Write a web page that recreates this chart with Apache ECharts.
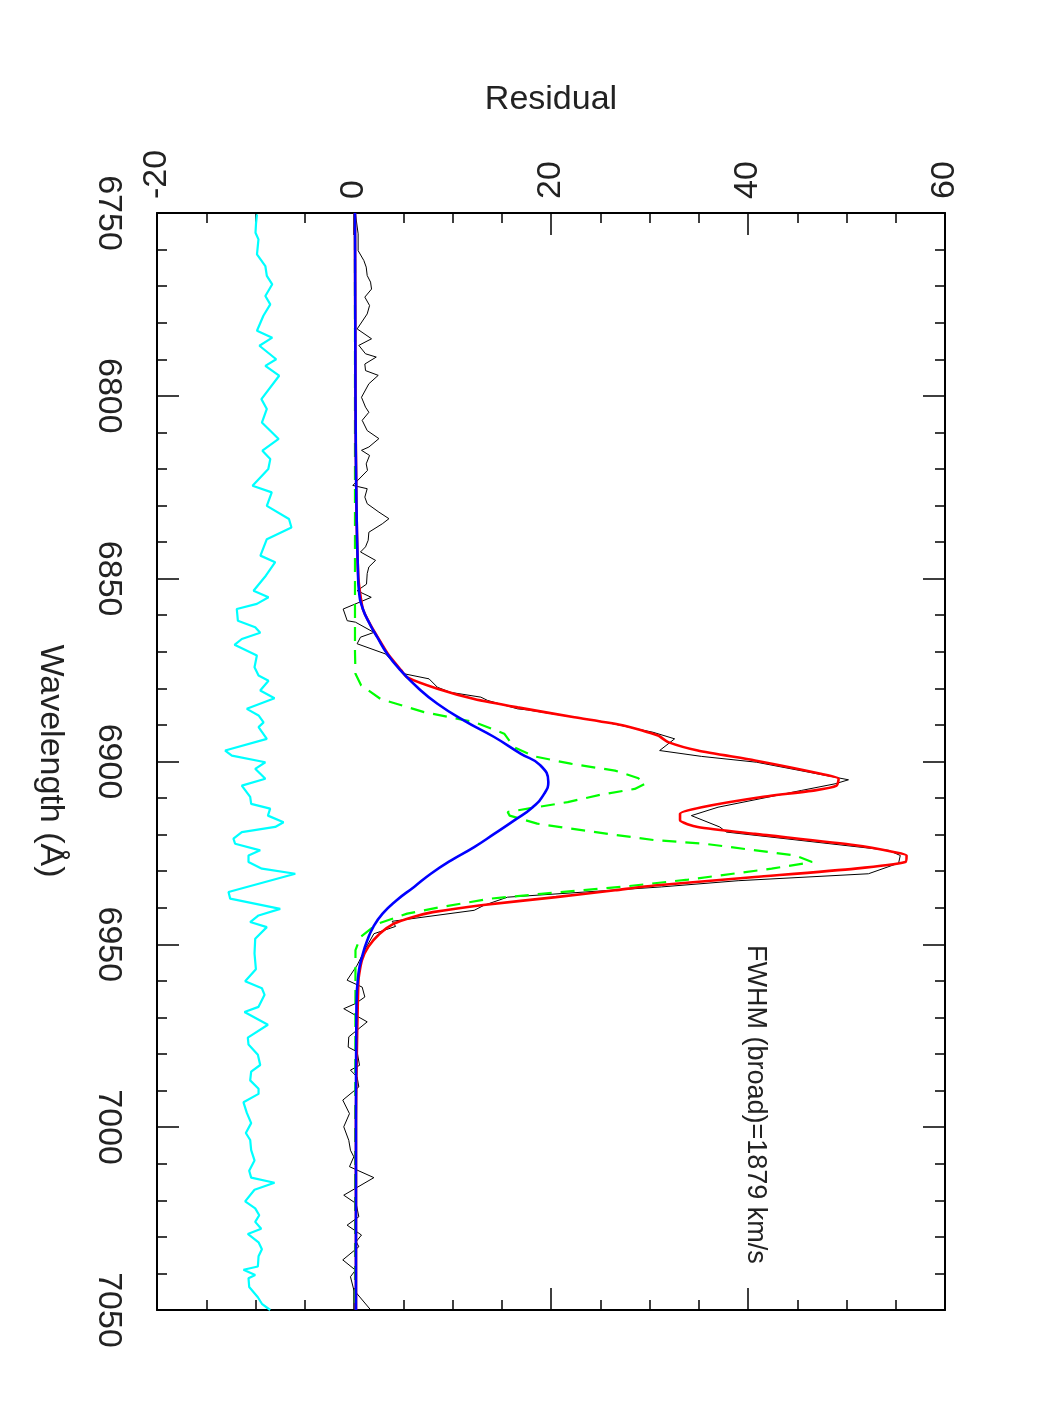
<!DOCTYPE html>
<html>
<head>
<meta charset="utf-8">
<script src="https://cdn.jsdelivr.net/npm/echarts@6/dist/echarts.min.js"></script>
<style>
  html, body { margin: 0; padding: 0; background: #fff; }
  #main { width: 1050px; height: 1425px; }
</style>
</head>
<body>
<div id="main"></div>
<script>
// residual axis (horizontal) ticks / wavelength axis (vertical) ticks
var residualTicks = [-20, 0, 20, 40, 60];
var waveTicks = [6750, 6800, 6850, 6900, 6950, 7000, 7050];

// observed residual spectrum (black)
var blackWave = [6750.3, 6755.7, 6760.3, 6763.0, 6764.8, 6767.1, 6768.9, 6770.8, 6773.0, 6775.3,
  6777.6, 6781.7, 6784.4, 6786.2, 6788.5, 6789.4, 6791.3, 6793.1, 6794.4, 6796.7,
  6800.4, 6803.1, 6804.5, 6806.7, 6809.5, 6811.7, 6814.0, 6814.9, 6816.3, 6818.6,
  6820.4, 6824.5, 6825.4, 6827.7, 6829.5, 6831.8, 6833.6, 6835.0, 6837.3, 6839.5,
  6841.3, 6842.7, 6845.0, 6846.8, 6848.6, 6851.5, 6853.3, 6855.1, 6858.3, 6861.5,
  6861.9, 6864.7, 6866.0, 6867.8, 6870.6, 6876.0, 6877.4, 6879.7, 6881.1, 6882.4,
  6883.3, 6885.6, 6885.9, 6887.9, 6889.2, 6892.0, 6893.8, 6897.0, 6898.6, 6900.2,
  6905.0, 6906.1, 6907.9, 6912.5, 6914.8, 6917.9, 6919.3, 6924.3, 6925.7, 6927.8,
  6930.7, 6932.6, 6934.3, 6937.1, 6939.3, 6940.7, 6943.7, 6945.1, 6947.1, 6951.0,
  6955.7, 6959.8, 6961.7, 6964.4, 6966.2, 6967.6, 6971.2, 6975.3, 6978.1, 6979.4,
  6983.1, 6984.4, 6986.3, 6989.0, 6992.6, 6996.3, 6999.9, 7003.6, 7006.3, 7008.1,
  7010.8, 7013.8, 7018.6, 7020.9, 7024.5, 7026.8, 7029.5, 7031.3, 7032.7, 7036.3,
  7039.1, 7040.9, 7044.5, 7050.0];
var blackFlux = [0.15, 0.42, 0.42, 1.0, 1.24, 1.34, 1.68, 1.78, 1.1, 1.58,
  1.34, 0.32, 1.78, 0.49, 1.17, 2.26, 1.1, 1.17, 2.46, 1.51,
  0.76, 1.17, 1.51, 0.83, 1.34, 2.53, 1.51, 0.76, 1.58, 1.24,
  1.37, -0.12, 1.34, 1.1, 1.34, 2.53, 3.55, 2.87, 1.51, 1.44,
  1.17, 0.66, 2.19, 1.51, 1.34, 1.27, 0.32, 1.75, -1.1, -0.69,
  0.15, 2.02, 0.66, 0.32, 3.21, 5.07, 7.62, 8.47, 9.82, 12.88,
  13.56, 16.61, 17.63, 22.38, 25.43, 30.35, 32.55, 31.03, 35.27, 40.87,
  50.2, 48.84, 45.45, 36.96, 34.25, 37.13, 37.81, 54.27, 55.46, 55.29,
  52.23, 39.0, 31.2, 15.59, 13.22, 12.2, 3.88, 4.22, 2.02, 1.2,
  0.32, -0.7, 0.83, 1.1, 0.15, -1.04, 1.34, -0.53, -0.59, 0.32,
  0.56, -0.36, 0.32, 0.49, -1.14, -0.46, -1.04, -0.53, -0.36, -0.02,
  -0.46, 2.02, -1.04, 0.22, 0.49, -0.7, 0.76, 0.22, 0.49, -1.14,
  0.15, -0.36, -0.02, 1.7];

// fit residual, shifted down by 10 (cyan)
var cyanWave = [6750.4, 6753.0, 6755.4, 6757.2, 6761.3, 6764.5, 6767.2, 6769.5, 6772.7, 6775.0,
  6778.1, 6782.2, 6784.1, 6786.3, 6790.0, 6791.8, 6794.5, 6800.9, 6803.6, 6807.3,
  6811.8, 6815.0, 6817.3, 6820.0, 6824.6, 6826.4, 6830.1, 6833.7, 6836.0, 6839.2,
  6843.7, 6845.5, 6849.2, 6853.3, 6855.1, 6856.9, 6858.3, 6861.5, 6863.3, 6864.8,
  6866.5, 6868.1, 6871.0, 6874.2, 6876.5, 6877.9, 6880.6, 6882.7, 6885.6, 6887.4,
  6889.3, 6890.6, 6893.8, 6897.0, 6898.4, 6900.2, 6902.0, 6904.7, 6906.6, 6909.7,
  6911.6, 6912.9, 6914.8, 6916.6, 6917.9, 6919.3, 6921.1, 6922.5, 6924.3, 6925.7,
  6927.5, 6929.3, 6930.7, 6935.7, 6937.5, 6940.3, 6942.1, 6943.9, 6945.3, 6948.5,
  6952.5, 6956.8, 6960.1, 6962.0, 6963.8, 6967.1, 6968.5, 6972.0, 6975.5, 6977.4,
  6980.2, 6983.0, 6984.8, 6987.2, 6989.5, 6990.9, 6993.2, 6996.1, 6998.9, 7001.6,
  7003.5, 7006.3, 7009.1, 7011.9, 7013.8, 7015.2, 7017.1, 7020.3, 7022.2, 7024.1,
  7025.9, 7027.8, 7029.2, 7031.5, 7033.4, 7035.3, 7038.1, 7039.0, 7040.4, 7041.3,
  7043.7, 7046.5, 7048.3, 7050.0];
var cyanFlux = [-9.85, -9.95, -10.0, -9.7, -9.85, -9.0, -8.85, -8.3, -9.0, -8.5,
  -9.2, -9.85, -8.3, -9.6, -7.9, -9.0, -7.6, -9.4, -8.85, -9.35,
  -7.65, -9.3, -8.5, -8.7, -10.3, -8.35, -8.85, -6.6, -6.35, -8.85,
  -9.5, -8.0, -8.95, -10.2, -8.68, -9.86, -11.9, -11.79, -10.03, -9.52,
  -11.39, -12.13, -9.86, -10.1, -9.69, -8.68, -9.52, -8.07, -10.88, -9.69,
  -9.18, -9.69, -8.85, -13.08, -12.4, -9.0, -10.03, -9.0, -11.39, -10.54,
  -10.44, -8.51, -8.74, -7.15, -8.0, -11.39, -12.24, -12.07, -9.52, -10.71,
  -10.71, -9.35, -5.96, -12.74, -12.57, -7.49, -9.69, -10.54, -8.85, -10.03,
  -10.1, -9.96, -11.05, -9.35, -9.08, -9.69, -11.12, -8.74, -10.78, -10.71,
  -9.76, -9.52, -10.44, -10.54, -9.69, -9.69, -11.22, -10.88, -10.44, -10.98,
  -10.54, -10.44, -10.1, -10.64, -10.44, -8.07, -10.1, -11.05, -10.03, -9.62,
  -10.03, -9.42, -10.78, -9.69, -9.35, -9.69, -9.76, -11.22, -10.03, -10.71,
  -10.64, -9.76, -9.35, -8.51];

// narrow components (green dashed)
var greenWave = [6750, 6870, 6876.0, 6879.2, 6882.9, 6886.5, 6889.2, 6892.4, 6896.1, 6898.6,
  6900.6, 6902.5, 6904.5, 6906.0, 6907.5, 6909.0, 6911.1, 6913.8, 6914.8, 6917.0,
  6919.8, 6921.5, 6922.5, 6925.7, 6927.5, 6929.3, 6932.3, 6934.3, 6936.2, 6937.5,
  6939.8, 6941.6, 6944.4, 6948.0, 6951.6, 7050];
var greenFlux = [0.1, 0.1, 0.15, 0.73, 2.7, 7.11, 12.2, 15.25, 16.27, 18.3,
  22.0, 26.5, 28.8, 29.6, 28.5, 25.2, 21.7, 15.6, 15.8, 18.6,
  25.8, 30.5, 35.6, 44.8, 46.5, 42.4, 33.9, 27.1, 19.0, 13.9,
  8.8, 5.4, 2.36, 0.66, 0.15, 0.1];

// total fit (red)
var redWave = [6750, 6800, 6830, 6850, 6858.3, 6862.8, 6866.0, 6870.6, 6875.1, 6877.0,
  6880.1, 6882.9, 6885.2, 6887.9, 6890.2, 6892.9, 6894.7, 6897.0, 6899.7, 6903.4,
  6904.7, 6906.6, 6907.9, 6909.7, 6912.5, 6914.3, 6916.1, 6917.9, 6919.8, 6922.9,
  6924.8, 6925.7, 6927.5, 6929.3, 6931.6, 6933.9, 6935.2, 6937.1, 6939.3, 6941.2,
  6942.5, 6944.4, 6947.1, 6950.7, 6954.4, 6960, 7000, 7050];
var redFlux = [0.1, 0.15, 0.25, 0.45, 0.9, 1.7, 2.4, 3.45, 4.8, 5.41,
  8.47, 12.2, 16.61, 22.38, 27.47, 30.86, 31.9, 34.9, 40.7, 47.5,
  49.2, 49.0, 46.8, 41.4, 35.3, 33.1, 33.1, 34.9, 40.7, 50.9,
  54.9, 56.1, 55.97, 50.9, 40.7, 30.5, 26.5, 20.5, 12.9, 8.0,
  6.0, 4.0, 2.6, 1.45, 0.8, 0.45, 0.2, 0.2];

// broad component (blue)
var blueWave = [6750, 6800, 6830, 6847.8, 6853.3, 6858.3, 6862.8, 6866.0, 6870.6, 6875.1,
  6879.7, 6884.2, 6888.8, 6893.3, 6897.9, 6901.0, 6905.6, 6908.8, 6912.5, 6916.1,
  6919.8, 6923.4, 6927.1, 6930.7, 6934.3, 6938.0, 6941.6, 6945.3, 6948.9, 6952.6,
  6958.0, 6967.1, 7000, 7050];
var blueFlux = [0.1, 0.15, 0.25, 0.4, 0.5, 0.9, 1.68, 2.36, 3.38, 4.73,
  6.43, 8.47, 11.18, 14.23, 16.95, 18.9, 19.73, 19.32, 18.14, 16.27,
  14.23, 12.2, 9.82, 7.8, 6.1, 4.3, 2.9, 1.95, 1.35, 0.9,
  0.45, 0.25, 0.2, 0.2];

function pairs(w, f) {
    var out = [];
    for (var i = 0; i < w.length; i++) {
        out.push([f[i], w[i]]);
    }
    return out;
}

var FONT = "'Liberation Sans', Helvetica, Arial, sans-serif";
var gridL = 157, gridT = 213, gridW = 788, gridH = 1097;

var chart = echarts.init(document.getElementById('main'), null, { renderer: 'canvas' });

// common axis look: black frame, ticks pointing inward
function frameAxis(extra) {
    var base = {
        type: 'value',
        axisLine: { show: true, onZero: false, lineStyle: { color: '#000', width: 2 } },
        axisTick: { show: true, inside: true, length: 22, lineStyle: { color: '#000', width: 1.5 } },
        splitLine: { show: false },
        minorSplitLine: { show: false }
    };
    for (var k in extra) base[k] = extra[k];
    return base;
}

var option = {
    backgroundColor: '#fff',
    animation: false,
    grid: { left: gridL, top: gridT, width: gridW, height: gridH, containLabel: false },
    xAxis: [
        frameAxis({
            position: 'top', min: residualTicks[0], max: residualTicks[residualTicks.length - 1], interval: 20,
            minorTick: { show: true, splitNumber: 4, length: 10, lineStyle: { color: '#000', width: 1.5 } },
            axisLabel: { show: true, rotate: -90, margin: 14, fontSize: 34, color: '#222', fontFamily: FONT,
                         formatter: function (v) { return String(v); } }
        }),
        frameAxis({
            position: 'bottom', min: residualTicks[0], max: residualTicks[residualTicks.length - 1], interval: 20,
            minorTick: { show: true, splitNumber: 4, length: 10, lineStyle: { color: '#000', width: 1.5 } },
            axisLabel: { show: false }
        })
    ],
    yAxis: [
        frameAxis({
            position: 'left', inverse: true, min: waveTicks[0], max: waveTicks[waveTicks.length - 1], interval: 50,
            minorTick: { show: true, splitNumber: 5, length: 10, lineStyle: { color: '#000', width: 1.5 } },
            axisLabel: { show: true, rotate: -90, margin: 32, fontSize: 34, color: '#222', fontFamily: FONT,
                         formatter: function (v) { return String(v); } }
        }),
        frameAxis({
            position: 'right', inverse: true, min: waveTicks[0], max: waveTicks[waveTicks.length - 1], interval: 50,
            minorTick: { show: true, splitNumber: 5, length: 10, lineStyle: { color: '#000', width: 1.5 } },
            axisLabel: { show: false }
        })
    ],
    series: [
        {
            name: 'residual-10', type: 'line', data: pairs(cyanWave, cyanFlux),
            showSymbol: false, lineStyle: { color: '#00ffff', width: 2.2 }, z: 2
        },
        {
            name: 'data', type: 'line', data: pairs(blackWave, blackFlux),
            showSymbol: false, lineStyle: { color: '#000', width: 1 }, z: 3
        },
        {
            name: 'narrow', type: 'line', data: pairs(greenWave, greenFlux),
            showSymbol: false, lineStyle: { color: '#00ff00', width: 2.2, type: [14, 9] }, z: 4
        },
        {
            name: 'total', type: 'line', data: pairs(redWave, redFlux), smooth: 0.2,
            showSymbol: false, lineStyle: { color: '#ff0000', width: 2.6 }, z: 5
        },
        {
            name: 'broad', type: 'line', data: pairs(blueWave, blueFlux), smooth: 0.5,
            showSymbol: false, lineStyle: { color: '#0000ff', width: 2.6 }, z: 6
        }
    ],
    graphic: [
        {
            type: 'text', x: 551, y: 100,
            style: { text: 'Residual', fontSize: 34, fill: '#222', fontFamily: FONT,
                     align: 'center', verticalAlign: 'middle' }
        },
        {
            type: 'text', x: 50, y: 761, rotation: -Math.PI / 2,
            style: { text: 'Wavelength (\u00c5)', fontSize: 34, fill: '#222', fontFamily: FONT,
                     align: 'center', verticalAlign: 'middle' }
        },
        {
            type: 'text', x: 755, y: 945, rotation: -Math.PI / 2,
            style: { text: 'FWHM (broad)=1879 km/s', fontSize: 27, fill: '#222', fontFamily: FONT,
                     align: 'left', verticalAlign: 'middle' }
        }
    ]
};

chart.setOption(option);
</script>
</body>
</html>
